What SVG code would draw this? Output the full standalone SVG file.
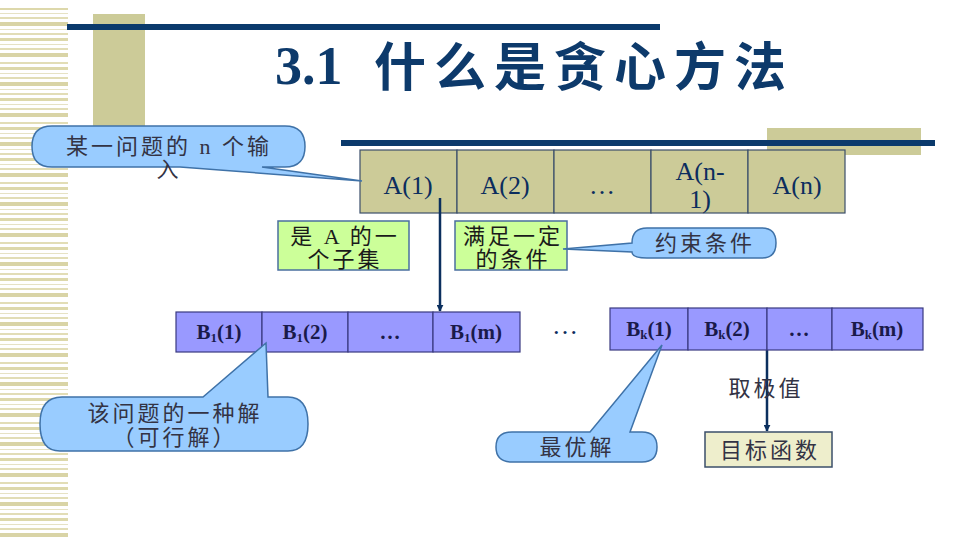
<svg xmlns="http://www.w3.org/2000/svg" width="960" height="540" viewBox="0 0 960 540">
<defs>
<pattern id="stripes" x="0" y="0" width="68" height="60" patternUnits="userSpaceOnUse">
<rect x="0" y="2" width="68" height="2" fill="#e2ddb6"/>
<rect x="0" y="7" width="68" height="3" fill="#ddd8ab"/>
<rect x="0" y="13" width="68" height="1" fill="#e6e2c4"/>
<rect x="0" y="17" width="68" height="2" fill="#e2ddb6"/>
<rect x="0" y="22" width="68" height="4" fill="#d9d4a6"/>
<rect x="0" y="29" width="68" height="1" fill="#e6e2c4"/>
<rect x="0" y="33" width="68" height="2" fill="#e2ddb6"/>
<rect x="0" y="38" width="68" height="3" fill="#ddd8ab"/>
<rect x="0" y="44" width="68" height="1" fill="#e6e2c4"/>
<rect x="0" y="48" width="68" height="2" fill="#e2ddb6"/>
<rect x="0" y="53" width="68" height="4" fill="#d9d4a6"/>
</pattern>
<marker id="arr" viewBox="0 0 10 10" refX="9" refY="5" markerWidth="7" markerHeight="7" orient="auto" markerUnits="userSpaceOnUse">
<path d="M0,0 L10,5 L0,10 Z" fill="#0b2f5e"/>
</marker>
<style>
.cell-a{fill:#cccb98;stroke:#3b4f6a;stroke-width:1.2}
.cell-b{fill:#9999ff;stroke:#3a3a80;stroke-width:1.2}
.green{fill:#ccff99;stroke:#4a6f9f;stroke-width:1.5}
.callout{fill:#99ccff;stroke:#3f72a8;stroke-width:1.5}
.ta{font-family:'Liberation Serif',serif;font-size:26px;fill:#0b2d5e;text-anchor:middle}
.tb{font-family:'Liberation Serif',serif;font-size:21px;font-weight:bold;fill:#1a1a4a;text-anchor:middle}
.tc{font-family:'Liberation Serif','Noto Sans CJK SC',sans-serif;font-size:22px;letter-spacing:3px;fill:#333344;text-anchor:middle}
.tg{font-family:'Liberation Serif','Noto Sans CJK SC',sans-serif;font-size:22px;letter-spacing:3px;fill:#1a1a1a;text-anchor:middle}
.link{stroke:#0b2f5e;stroke-width:2.5;fill:none}
</style>
</defs>
<rect width="960" height="540" fill="#ffffff"/>
<rect x="0" y="8" width="68" height="532" fill="url(#stripes)"/>
<rect x="93" y="14" width="52" height="114" fill="#cccb98"/>
<rect x="67" y="24" width="593" height="6" fill="#0b3a6c"/>
<rect x="767" y="128" width="154" height="27" fill="#cccb98"/>
<rect x="341" y="140" width="594" height="6" fill="#0b3a6c"/>
<text font-family="'Liberation Serif','Noto Sans CJK SC',serif" font-weight="bold" fill="#0d3a6b"><tspan x="275" y="84" font-size="54">3.1</tspan><tspan x="374" y="86" font-size="52" textLength="412" lengthAdjust="spacing">什么是贪心方法</tspan></text>

<g id="nodeA">
<rect class="cell-a" x="360" y="150" width="97" height="63"/>
<rect class="cell-a" x="457" y="150" width="97" height="63"/>
<rect class="cell-a" x="554" y="150" width="97" height="63"/>
<rect class="cell-a" x="651" y="150" width="97" height="63"/>
<rect class="cell-a" x="748" y="150" width="97" height="63"/>
<text class="ta" x="408" y="194">A(1)</text>
<text class="ta" x="505" y="194">A(2)</text>
<text class="ta" x="602" y="194">…</text>
<text class="ta" x="700" y="180">A(n-</text>
<text class="ta" x="700" y="208">1)</text>
<text class="ta" x="797" y="194">A(n)</text>
</g>

<g id="connectors">
<line class="link" x1="440" y1="198" x2="440" y2="311" marker-end="url(#arr)"/>
<line class="link" x1="767" y1="350" x2="767" y2="431" marker-end="url(#arr)"/>
</g>

<g id="callout-input">
<path class="callout" d="M52,126 H285 Q305,126 305,146.5 Q305,167 285,167 H262 L362,181 L180,167 H52 Q32,167 32,146.5 Q32,126 52,126 Z"/>
<text class="tc" x="169" y="154">某一问题的 n 个输</text>
<text class="tc" x="169" y="177">入</text>
</g>

<g id="subset">
<rect class="green" x="278" y="221" width="131" height="49"/>
<text class="tg" x="345" y="244">是 A 的一</text>
<text class="tg" x="345" y="267">个子集</text>
</g>

<g id="condition">
<rect class="green" x="455" y="221" width="112" height="49"/>
<text class="tg" x="513" y="244">满足一定</text>
<text class="tg" x="513" y="267">的条件</text>
</g>

<g id="callout-constraint">
<path class="callout" d="M647,228 H762 Q776,228 776,243 Q776,258 762,258 H647 Q632,258 632,252 L563,249 L632,243 Q632,228 647,228 Z"/>
<text class="tc" x="705" y="251">约束条件</text>
</g>

<g id="rowB1">
<rect class="cell-b" x="176" y="312" width="86" height="40"/>
<rect class="cell-b" x="262" y="312" width="86" height="40"/>
<rect class="cell-b" x="348" y="312" width="85" height="40"/>
<rect class="cell-b" x="433" y="312" width="87" height="40"/>
<text class="tb" x="219" y="339">B<tspan font-size="13" dy="3">1</tspan><tspan dy="-3">(1)</tspan></text>
<text class="tb" x="305" y="339">B<tspan font-size="13" dy="3">1</tspan><tspan dy="-3">(2)</tspan></text>
<text class="tb" x="390" y="339">…</text>
<text class="tb" x="476" y="339">B<tspan font-size="13" dy="3">1</tspan><tspan dy="-3">(m)</tspan></text>
</g>

<text class="ta" x="566" y="334" font-size="20" letter-spacing="2">…</text>

<g id="rowBk">
<rect class="cell-b" x="610" y="308" width="78" height="42"/>
<rect class="cell-b" x="688" y="308" width="79" height="42"/>
<rect class="cell-b" x="767" y="308" width="65" height="42"/>
<rect class="cell-b" x="832" y="308" width="91" height="42"/>
<text class="tb" x="649" y="336">B<tspan font-size="13" dy="3">k</tspan><tspan dy="-3">(1)</tspan></text>
<text class="tb" x="727" y="336">B<tspan font-size="13" dy="3">k</tspan><tspan dy="-3">(2)</tspan></text>
<text class="tb" x="799" y="336">…</text>
<text class="tb" x="877" y="336">B<tspan font-size="13" dy="3">k</tspan><tspan dy="-3">(m)</tspan></text>
</g>

<g id="callout-feasible">
<path class="callout" d="M62,397 H203 L266,343 L268,397 H288 Q308,397 308,424 Q308,451 288,451 H60 Q40,451 40,424 Q40,397 62,397 Z"/>
<text class="tc" x="175" y="421">该问题的一种解</text>
<text class="tc" x="175" y="445">（可行解）</text>
</g>

<g id="callout-optimal">
<path class="callout" d="M512,432 H590 L662,345 L630,432 H642 Q657,432 657,447 Q657,462 642,462 H512 Q496,462 496,447 Q496,432 512,432 Z"/>
<text class="tc" x="577" y="455">最优解</text>
</g>

<text class="tc" x="766" y="396" font-size="20">取极值</text>

<g id="objective">
<rect x="705" y="432" width="127" height="35" fill="#eeeecc" stroke="#3b4f6a" stroke-width="1.5"/>
<text class="tc" x="770" y="458" font-size="23">目标函数</text>
</g>
</svg>
